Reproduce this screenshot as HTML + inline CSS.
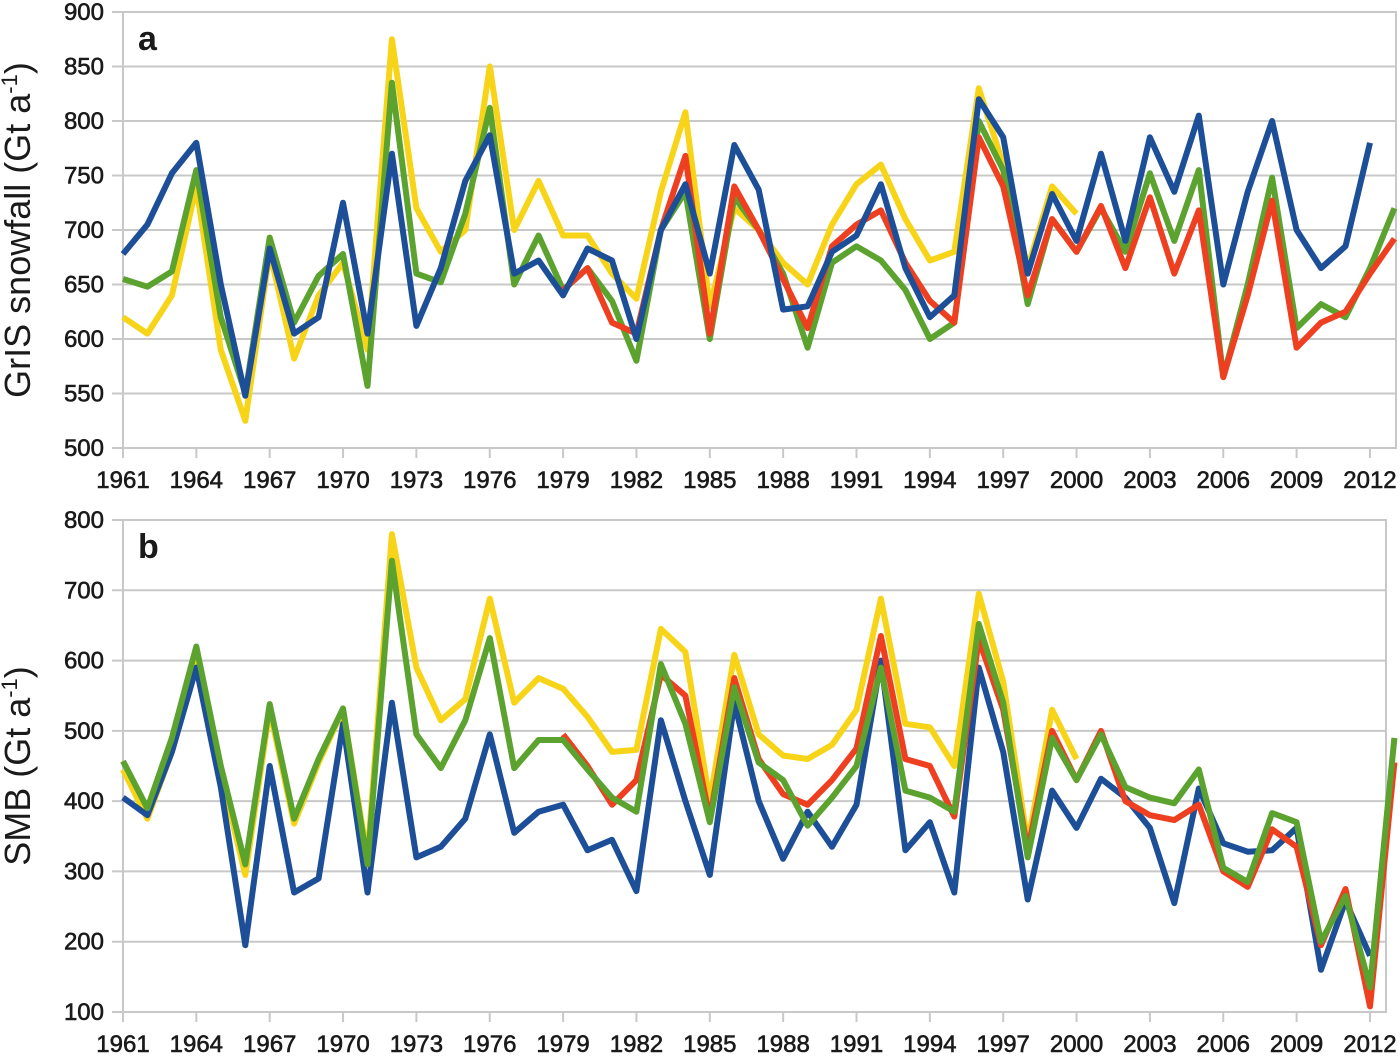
<!DOCTYPE html>
<html><head><meta charset="utf-8"><style>
body{margin:0;background:#fff;width:1400px;height:1054px;overflow:hidden}
svg text{font-family:"Liberation Sans",sans-serif;fill:#1a1a1a}
</style></head><body>
<svg id="chart" width="1400" height="1054" xmlns="http://www.w3.org/2000/svg"></svg>
<script>
const years=[];for(let y=1961;y<=2013;y++)years.push(y);
const aBlue=[678,705,752,780,650,548,683,605,620,725,605,770,612,665,745,787,660,672,640,683,672,600,700,742,660,778,737,627,630,680,695,742,665,620,640,820,785,660,733,690,770,690,785,735,805,650,735,800,700,665,685,780];
const aYellow=[620,605,640,740,590,525,680,582,640,670,590,875,720,680,700,850,700,745,695,695,660,637,735,808,630,720,700,670,650,705,742,760,710,672,680,830,760,665,740,715];
const aGreen=[655,648,662,755,620,550,693,615,658,678,557,835,660,652,715,812,650,695,645,665,635,580,700,735,600,730,700,660,592,670,685,672,645,600,615,800,755,632,710,680,720,680,752,690,755,565,650,748,610,632,620,665,720];
const aRed=[645,665,615,605,700,768,605,740,700,655,610,685,705,718,670,635,615,785,740,640,710,680,722,665,730,660,718,565,640,727,592,615,625,660,692];
const bBlue=[405,380,470,590,420,195,450,270,290,510,270,540,320,335,375,495,355,385,395,330,345,272,515,400,295,540,400,318,385,335,395,600,330,370,270,590,470,260,415,362,432,405,362,255,418,340,328,330,362,160,258,180];
const bYellow=[445,375,470,600,440,295,530,368,455,530,320,780,590,515,545,688,540,575,560,520,470,473,645,612,400,608,495,465,460,480,530,688,510,505,450,695,570,340,530,460];
const bGreen=[457,390,490,620,450,310,538,375,460,532,310,742,495,447,515,632,447,487,487,445,405,385,595,510,370,562,455,430,365,405,450,590,415,405,385,652,540,320,490,430,495,420,405,397,445,305,285,383,370,200,265,135,490];
const bRed=[495,450,395,430,580,550,375,575,460,410,395,430,475,635,460,450,378,630,530,330,500,430,500,400,380,373,395,300,278,360,335,195,275,108,455];
const redStart=1979;
const aTicks=[500,550,600,650,700,750,800,850,900];
const bTicks=[100,200,300,400,500,600,700,800];
const xLabels=[1961,1964,1967,1970,1973,1976,1979,1982,1985,1988,1991,1994,1997,2000,2003,2006,2009,2012];
const NS="http://www.w3.org/2000/svg";
const svg=document.getElementById('chart');
function mk(t,at,p){const e=document.createElementNS(NS,t);for(const k in at)e.setAttribute(k,at[k]);(p||svg).appendChild(e);return e;}
const X=y=>123+(y-1961)*24.45;
function panel(cfg){
  const g=mk('g',{});
  
  
  const Y=v=>cfg.bot-(v-cfg.min)/(cfg.max-cfg.min)*(cfg.bot-cfg.top);
  mk('rect',{x:123,y:cfg.top,width:cfg.right-123,height:cfg.bot-cfg.top,fill:'none',stroke:'#c8c8c8','stroke-width':2},g);
  cfg.ticks.forEach(t=>{
    mk('line',{x1:112,x2:cfg.right,y1:Y(t),y2:Y(t),stroke:'#c8c8c8','stroke-width':2},g);
    const tx=mk('text',{x:104,y:Y(t)+8,'text-anchor':'end','font-size':24,stroke:'#1a1a1a','stroke-width':0.6},g);tx.textContent=t;
    
    
  });
  mk('line',{x1:123,x2:123,y1:cfg.top,y2:cfg.bot+10,stroke:'#c8c8c8','stroke-width':2},g);
  xLabels.forEach(yr=>{
    mk('line',{x1:X(yr),x2:X(yr),y1:cfg.bot,y2:cfg.bot+10,stroke:'#c8c8c8','stroke-width':2},g);
    const tx=mk('text',{x:X(yr),y:cfg.bot+40,'text-anchor':'middle','font-size':24,stroke:'#1a1a1a','stroke-width':0.6},g);tx.textContent=yr;
    
    
  });
  const lt=mk('text',{x:138,y:cfg.top+38,'font-size':34,'font-weight':'bold'},g);lt.textContent=cfg.letter;
  
  
  const yt=mk('text',{x:0,y:0,'font-size':36,'text-anchor':'middle',transform:`translate(30,${(cfg.top+cfg.bot)/2}) rotate(-90)`},g);
  yt.innerHTML=cfg.title+' (Gt a<tspan dy="-13" font-size="22">-1</tspan><tspan dy="13">)</tspan>';
  
  
  cfg.series.forEach(s=>{
    const pts=s.d.map((v,i)=>X(s.start+i).toFixed(1)+','+Y(v).toFixed(1)).join(' ');
    const pl=mk('polyline',{points:pts,fill:'none',stroke:s.c,'stroke-width':6,'stroke-linejoin':'round'},g);
    
    
  });
}
panel({name:'panel-a-snowfall',top:12,bot:448,right:1396,min:500,max:900,ticks:aTicks,letter:'a',title:'GrIS snowfall',
 series:[{d:aYellow,c:'#f7d417',start:1961,n:'series-yellow'},{d:aGreen,c:'#5ba22e',start:1961,n:'series-green'},{d:aRed,c:'#ee4020',start:redStart,n:'series-red'},{d:aBlue,c:'#1d4f98',start:1961,n:'series-blue'}]});
panel({name:'panel-b-smb',top:520,bot:1012,right:1386,min:100,max:800,ticks:bTicks,letter:'b',title:'SMB',
 series:[{d:bYellow,c:'#f7d417',start:1961,n:'series-yellow'},{d:bBlue,c:'#1d4f98',start:1961,n:'series-blue'},{d:bRed,c:'#ee4020',start:redStart,n:'series-red'},{d:bGreen,c:'#5ba22e',start:1961,n:'series-green'}]});
</script>
</body></html>
